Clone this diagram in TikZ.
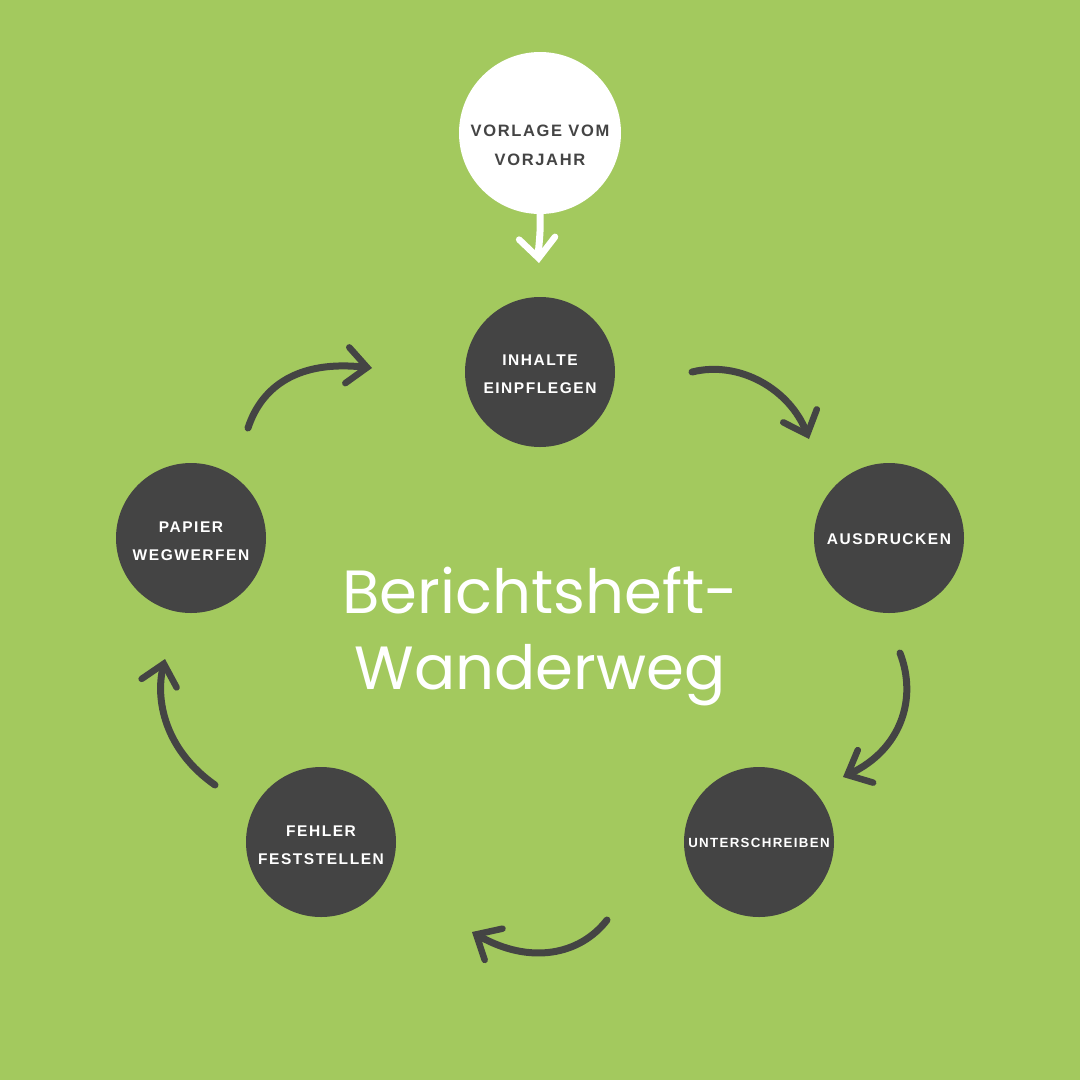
\documentclass[tikz,border=0pt]{standalone}
\usepackage{fontspec}
\usetikzlibrary{arrows.meta}
\newfontfamily\labelfont[LetterSpace=10]{Liberation Sans}
\newfontfamily\titlefont{Poppins}
\definecolor{bggreen}{HTML}{A3C95E}
\definecolor{darkc}{HTML}{444444}
\tikzset{
  stepcirc/.style={circle, fill=darkc, minimum size=150pt, inner sep=0pt},
  steptext/.style={text=white, font=\labelfont\bfseries\fontsize{15.5}{28}\selectfont, align=center},
  startcirc/.style={circle, fill=white, minimum size=162pt, inner sep=0pt},
  starttext/.style={text=darkc, font=\labelfont\bfseries\fontsize{16.5}{29}\selectfont, align=center},
  flow/.style={draw=darkc, line width=7pt, line cap=round,
    -{Straight Barb[length=20pt,width=36pt,line width=6.5pt,line cap=round]}},
  startflow/.style={flow, draw=white}
}
\begin{document}
\begin{tikzpicture}[x=1pt,y=-1pt]
\useasboundingbox (0,0) rectangle (1080,1080);
\fill[bggreen] (0,0) rectangle (1080,1080);
\node[startcirc] (vor) at (540,133) {};
\node[starttext] (vort) at (540,145) {VORLAGE VOM\\VORJAHR};
\node[stepcirc] (inh) at (540,372) {};
\node[steptext] (inht) at (540,374) {INHALTE\\EINPFLEGEN};
\node[stepcirc] (aus) at (889,538) {};
\node[steptext] (aust) at (889,539) {AUSDRUCKEN};
\node[stepcirc] (unt) at (759,842) {};
\node[steptext, font=\labelfont\bfseries\fontsize{13.3}{24}\selectfont] (untt) at (759,843) {UNTERSCHREIBEN};
\node[stepcirc] (feh) at (321,842) {};
\node[steptext] (feht) at (321,845) {FEHLER\\FESTSTELLEN};
\node[stepcirc] (pap) at (191,538) {};
\node[steptext] (papt) at (191,541) {PAPIER\\WEGWERFEN};
\node[text=white, font=\titlefont\fontsize{61}{76}\selectfont, align=center] (title) at (540,636) {Berichtsheft-\\Wanderweg};
\coordinate (s0) at (540,214); \coordinate (e0) at (539,263);
\coordinate (s1) at (248,428); \coordinate (e1) at (372,368);
\coordinate (s2) at (692,372); \coordinate (e2) at (809,439);
\coordinate (s3) at (900,653); \coordinate (e3) at (843,777);
\coordinate (s4) at (607,920); \coordinate (e4) at (472,932);
\coordinate (s5) at (215,785); \coordinate (e5) at (165,659);
\draw[startflow] (s0) .. controls (541,235) and (538,250) .. (e0);
\draw[flow] (s1) .. controls (262,385) and (300,360) .. (e1);
\draw[flow] (s2) .. controls (740,360) and (790,390) .. (e2);
\draw[flow] (s3) .. controls (918,700) and (900,750) .. (e3);
\draw[flow] (s4) .. controls (580,955) and (530,965) .. (e4);
\draw[flow] (s5) .. controls (165,750) and (155,700) .. (e5);
\end{tikzpicture}
\end{document}
